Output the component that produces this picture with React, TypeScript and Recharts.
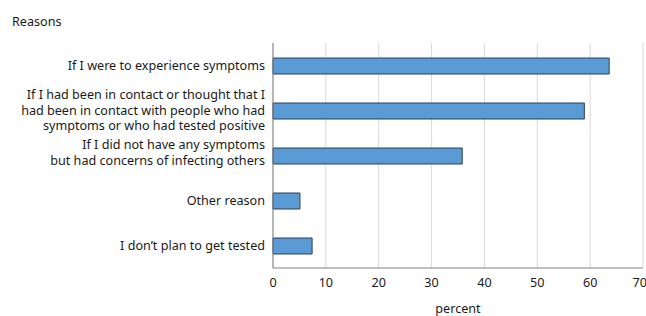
import React from "react";
import {
  Bar,
  BarChart,
  CartesianGrid,
  XAxis,
  YAxis
} from "recharts";

const reasons = [
  "If I were to experience symptoms",
  "If I had been in contact or thought that I\nhad been in contact with people who had\nsymptoms or who had tested positive",
  "If I did not have any symptoms\nbut had concerns of infecting others",
  "Other reason",
  "I don\u2019t plan to get tested"
];
const percents = [63.6, 58.9, 35.8, 5.1, 7.4];
const xTicks = [0, 10, 20, 30, 40, 50, 60, 70];

const FONT = "'Noto Sans', sans-serif";
const FS = 12.6;

function ReasonTick(props: any) {
  const { x, y, payload } = props;
  const lines: string[] = String(payload.value).split("\n");
  const lh = 15.5;
  const start = -((lines.length - 1) * lh) / 2 - (lines.length === 2 ? 3 : 0);
  return (
    <text x={x} y={y} textAnchor="end" fontSize={FS} fontFamily={FONT} fill="#1a1a1a">
      {lines.map((l, i) => (
        <tspan key={i} x={x} y={y + start + i * lh} dy="0.35em">{l}</tspan>
      ))}
    </text>
  );
}

export default function App() {
  const data = reasons.map((r, i) => ({ reason: r, value: percents[i] }));

  return (
    <div style={{ position: "absolute", left: 0, top: 0, width: 646, height: 316, background: "#fff" }}>
      <div style={{ position: "absolute", left: 12, top: 13, fontFamily: FONT, fontSize: FS, color: "#1a1a1a" }}>
        Reasons
      </div>
      <BarChart
        width={646}
        height={316}
        data={data}
        layout="vertical"
        margin={{ top: 43, right: 3, bottom: 0, left: 0 }}
      >
        <CartesianGrid horizontal={false} stroke="#d9d9d9" />
        <XAxis
          type="number"
          domain={[0, 70]}
          ticks={xTicks}
          height={48}
          axisLine={{ stroke: "#808080" }}
          tickLine={false}
          tick={{ fontSize: FS, fontFamily: FONT, fill: "#1a1a1a" }}
          tickMargin={4}
          label={{ value: "percent", position: "insideBottom", offset: 3, fontSize: FS, fontFamily: FONT, fill: "#1a1a1a" }}
        />
        <XAxis
          xAxisId="top"
          orientation="top"
          type="number"
          domain={[0, 70]}
          height={0}
          tick={false}
          tickLine={false}
          axisLine={{ stroke: "#808080" }}
        />
        <YAxis
          type="category"
          dataKey="reason"
          width={273}
          axisLine={{ stroke: "#808080" }}
          tickLine={false}
          tick={<ReasonTick />}
          interval={0}
        />
        <YAxis
          yAxisId="right"
          orientation="right"
          type="category"
          dataKey="reason"
          width={0}
          tick={false}
          tickLine={false}
          axisLine={{ stroke: "#808080" }}
        />
        <Bar
          dataKey="value"
          fill="#5b9bd5"
          stroke="#2f3f52"
          strokeWidth={1}
          barSize={16}
          isAnimationActive={false}
        />
      </BarChart>
    </div>
  );
}
